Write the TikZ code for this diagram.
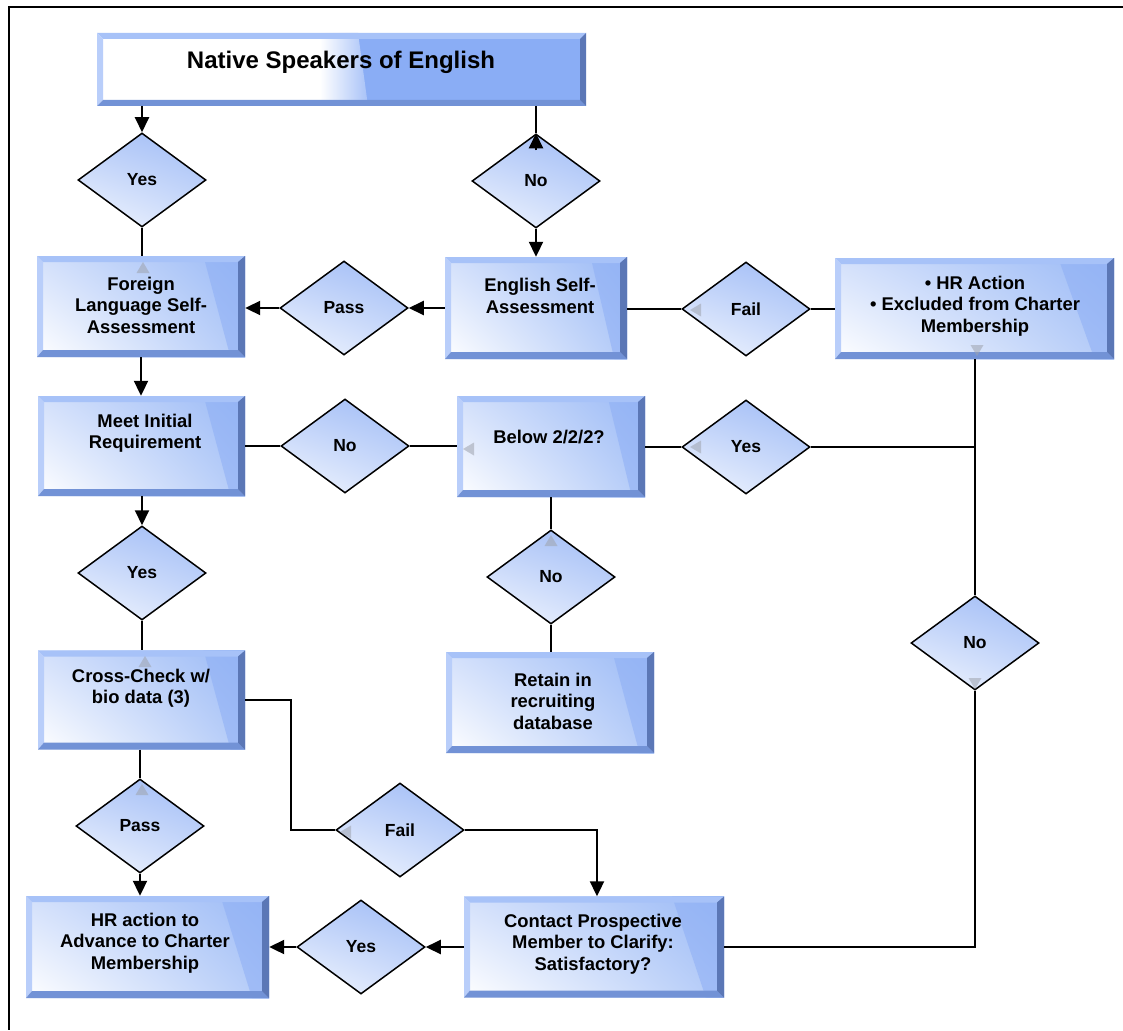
\documentclass[tikz,border=0pt]{standalone}
\usepackage{fontspec}
\setmainfont{Liberation Sans}
\usetikzlibrary{shapes.geometric,arrows.meta,calc,shadings}

% palette
\definecolor{bevtop}{HTML}{A7C2F8}
\definecolor{bevleft}{HTML}{B9CEFA}
\definecolor{bevbot}{HTML}{7292D6}
\definecolor{bevright}{HTML}{5B77B6}
\definecolor{faceUL}{HTML}{D3E0FB}
\definecolor{faceUR}{HTML}{9BBAF6}
\definecolor{faceLR}{HTML}{B4CBF8}
\definecolor{faceband}{HTML}{8DAEF5}
\definecolor{titleblue}{HTML}{8AADF5}
\definecolor{dmUL}{HTML}{B6CBF8}
\definecolor{dmUR}{HTML}{A0BCF6}
\definecolor{dmLL}{HTML}{F3F7FE}
\definecolor{dmLR}{HTML}{D0DEFB}
\definecolor{portgray}{HTML}{9EA3AD}

\newcommand\bxfont{\bfseries\fontsize{18.4}{21.5}\selectfont}
\newcommand\dmfont{\bfseries\fontsize{17.5}{20}\selectfont}
\newcommand\ttlfont{\bfseries\fontsize{24}{28}\selectfont}

\tikzset{
  % raised frame around a box face
  bevbox/.style={rectangle, inner sep=0pt,
    path picture={
      \coordinate (bA) at (path picture bounding box.north west);
      \coordinate (bB) at (path picture bounding box.north east);
      \coordinate (bC) at (path picture bounding box.south east);
      \coordinate (bD) at (path picture bounding box.south west);
      \coordinate (ba) at ($(bA)+(6pt,-6pt)$);
      \coordinate (bb) at ($(bB)+(-7pt,-6pt)$);
      \coordinate (bc) at ($(bC)+(-7pt,7pt)$);
      \coordinate (bd) at ($(bD)+(6pt,7pt)$);
      \shade[upper left=faceUL, upper right=faceUR, lower left=white, lower right=faceLR]
        (bA) rectangle (bC);
      \fill[faceband, opacity=.55] ($(bA)!.8!(bB)$) -- (bB) -- (bC) -- ($(bD)!.93!(bC)$) -- cycle;
      \fill[bevtop] (bA) -- (bB) -- (bb) -- (ba) -- cycle;
      \fill[bevleft] (bA) -- (ba) -- (bd) -- (bD) -- cycle;
      \fill[bevbot] (bD) -- (bd) -- (bc) -- (bC) -- cycle;
      \fill[bevright] (bB) -- (bC) -- (bc) -- (bb) -- cycle;
    }},
  titlebox/.style={rectangle, inner sep=0pt,
    path picture={
      \coordinate (tA) at (path picture bounding box.north west);
      \coordinate (tB) at (path picture bounding box.north east);
      \coordinate (tC) at (path picture bounding box.south east);
      \coordinate (tD) at (path picture bounding box.south west);
      \coordinate (ta) at ($(tA)+(6pt,-6pt)$);
      \coordinate (tb) at ($(tB)+(-6pt,-6pt)$);
      \coordinate (tc) at ($(tC)+(-6pt,6pt)$);
      \coordinate (td) at ($(tD)+(6pt,6pt)$);
      \fill[titleblue] (tA) rectangle (tC);
      \fill[white] (tA) -- ($(tA)+(224pt,0)$) -- ($(tD)+(224pt,0)$) -- (tD) -- cycle;
      \shade[left color=white, right color=titleblue!75!white]
        ($(tA)+(223pt,0)$) -- ($(tA)+(261pt,0)$) -- ($(tD)+(271pt,0)$) -- ($(tD)+(223pt,0)$) -- cycle;
      \fill[bevtop] (tA) -- (tB) -- (tb) -- (ta) -- cycle;
      \fill[bevleft] (tA) -- (ta) -- (td) -- (tD) -- cycle;
      \fill[bevbot] (tD) -- (td) -- (tc) -- (tC) -- cycle;
      \fill[bevright] (tB) -- (tC) -- (tc) -- (tb) -- cycle;
    }},
  bxtext/.style={align=center, font=\bxfont, inner sep=0pt},
  dm/.style={diamond, draw=black, line width=1.5pt, inner sep=0pt,
    minimum width=128pt, minimum height=94pt, font=\dmfont,
    shade, upper left=dmUL, upper right=dmUR, lower left=dmLL, lower right=dmLR},
  conn/.style={line width=2pt, draw=black},
  arr/.style={conn, -{Triangle[length=15pt,width=14pt]}},
  pics/portmark/.style={code={
    \fill[portgray, opacity=.55] (0,0) -- (-6.5,11) -- (6.5,11) -- cycle;}}
}

\begin{document}
\begin{tikzpicture}[x=1pt,y=-1pt]
\useasboundingbox (0,0) rectangle (1123,1030);
\fill[white] (0,0) rectangle (1123,1030);

% page frame (top and left edges)
\draw[line width=2pt] (1123,7) -- (9,7) -- (9,1030);

% ---------- boxes ----------
\node[titlebox, minimum width=489pt, minimum height=73pt] (title) at (341.5,69.5) {};
\node[font=\ttlfont, anchor=base, inner sep=0pt] (title-t) at (341,69) {Native Speakers of English};

\node[bevbox, minimum width=208pt, minimum height=101pt] (fl) at (141,306.5) {};
\node[bxtext] (fl-t) at (141,305) {Foreign\\Language Self-\\Assessment};

\node[bevbox, minimum width=182pt, minimum height=102pt] (es) at (536,308) {};
\node[bxtext] (es-t) at (540,296) {English Self-\\Assessment};

\node[bevbox, minimum width=279pt, minimum height=101pt] (hr) at (974.5,308.5) {};
\node[bxtext] (hr-t) at (975,306) {• HR Action\\• Excluded from Charter\\Membership};

\node[bevbox, minimum width=207pt, minimum height=100pt] (mir) at (141.5,446) {};
\node[bxtext] (mir-t) at (145,433) {Meet Initial\\Requirement};

\node[bevbox, minimum width=188pt, minimum height=101pt] (below) at (551,446.5) {};
\node[bxtext] (below-t) at (549,437) {Below 2/2/2?};

\node[bevbox, minimum width=208pt, minimum height=101pt] (retain) at (550,702.5) {};
\node[bxtext] (retain-t) at (553,701) {Retain in\\recruiting\\database};

\node[bevbox, minimum width=207pt, minimum height=99pt] (cc) at (141.5,700) {};
\node[bxtext] (cc-t) at (141,688) {Cross-Check w/\\bio data (3)};

\node[bevbox, minimum width=243pt, minimum height=102pt] (hra) at (147.5,947) {};
\node[bxtext] (hra-t) at (145,943) {HR action to\\Advance to Charter\\Membership};

\node[bevbox, minimum width=260pt, minimum height=101pt] (contact) at (594,947) {};
\node[bxtext] (contact-t) at (593,944) {Contact Prospective\\Member to Clarify:\\Satisfactory?};

% ---------- decisions ----------
\node[dm] (d1) at (142,180) {Yes};
\node[dm] (d2) at (536,181) {No};
\node[dm] (d3) at (344,308) {Pass};
\node[dm] (d4) at (746,309) {Fail};
\node[dm] (d5) at (345,446) {No};
\node[dm] (d6) at (746,447) {Yes};
\node[dm] (d7) at (142,573) {Yes};
\node[dm] (d8) at (551,577) {No};
\node[dm] (d9) at (975,643) {No};
\node[dm] (d10) at (140,826) {Pass};
\node[dm] (d11) at (400,830) {Fail};
\node[dm] (d12) at (361,947) {Yes};

% ---------- connectors ----------
\draw[arr] (title.south -| d1.north) -- (d1.north);
\draw[conn] (d1.south) -- (d1.south |- fl.north);

\draw[conn] (title.south -| d2.north) -- (d2.north);
\draw[arr] ($(d2.north)+(0,17)$) -- (d2.north);
\draw[arr] (d2.south) -- (d2.south |- es.north);

\draw[arr] (es.west |- d3.east) -- (d3.east);
\draw[arr] (d3.west) -- (d3.west -| fl.east);

\draw[conn] (es.east |- d4.west) -- (d4.west);
\draw[conn] (d4.east) -- (d4.east -| hr.west);

\draw[conn] (hr.south -| d9.north) -- (d9.north);
\coordinate (jn) at (d6.east -| d9.north);
\draw[conn] (d6.east) -- (jn);
\draw[conn] (d6.west) -- (d6.west -| below.east);
\draw[conn] (below.west |- d5.east) -- (d5.east);
\draw[conn] (d5.west) -- (d5.west -| mir.east);

\draw[arr] (fl.south) -- (mir.north -| fl.south);
\draw[arr] (mir.south -| d7.north) -- (d7.north);
\draw[conn] (d7.south) -- (d7.south |- cc.north);

\draw[conn] (below.south -| d8.north) -- (d8.north);
\draw[conn] (d8.south) -- (d8.south |- retain.north);

\draw[conn] (cc.south -| d10.north) -- (d10.north);
\draw[arr] (d10.south) -- (d10.south |- hra.north);

\coordinate (ccbend) at ($(cc.east)+(45.5,0)$);
\draw[conn] (cc.east) -- (ccbend) |- (d11.west);
\coordinate (ctin) at ($(contact.north)+(3,0)$);
\draw[arr] (d11.east) -| (ctin);

\draw[conn] (d9.south) |- (contact.east);
\draw[arr] (contact.west) -- (contact.west -| d12.east);
\draw[arr] (d12.west) -- (d12.west -| hra.east);

% ---------- port marks ----------
\pic at (143,262) {portmark};
\pic[rotate=180] at (977,356) {portmark};
\pic[rotate=90] at (463,449) {portmark};
\pic[rotate=90] at (690,447) {portmark};
\pic[rotate=90] at (690,310) {portmark};
\pic[rotate=90] at (340,832) {portmark};
\pic at (551,535) {portmark};
\pic at (145,656) {portmark};
\pic at (142,784) {portmark};
\pic[rotate=180] at (975,689) {portmark};
\end{tikzpicture}
\end{document}
